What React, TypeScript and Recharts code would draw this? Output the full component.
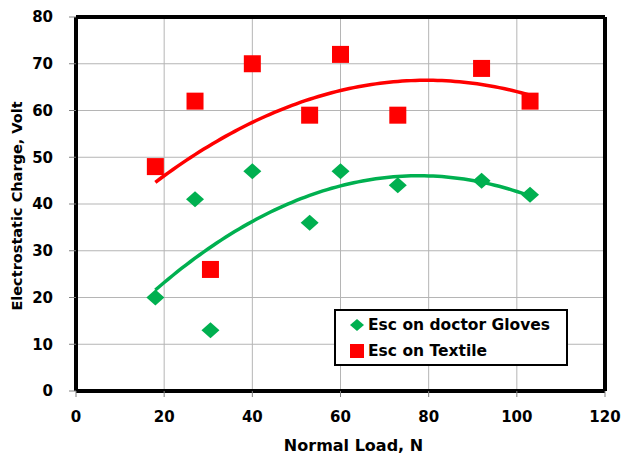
import React from "react";
import { ComposedChart, Scatter, XAxis, YAxis, CartesianGrid, Legend, ReferenceLine, Label } from "recharts";

const loads = [18, 27, 30.5, 40, 53, 60, 73, 92, 103];
const glovesCharge = [20, 41, 13, 47, 36, 47, 44, 45, 42];
const textileCharge = [48, 62, 26, 70, 59, 72, 59, 69, 62];
const xTicks = [0, 20, 40, 60, 80, 100, 120];
const yTicks = [0, 10, 20, 30, 40, 50, 60, 70, 80];

const GREEN = "#00B050";
const RED = "#FF0000";
const FONT = "'DejaVu Sans', sans-serif";

// 2nd order polynomial least squares fit, like Excel's trendline
function quadFit(xs: number[], ys: number[]) {
  const s = [0, 0, 0, 0, 0];
  const t = [0, 0, 0];
  xs.forEach((x, i) => {
    for (let k = 0; k < 5; k++) s[k] += Math.pow(x, k);
    for (let k = 0; k < 3; k++) t[k] += ys[i] * Math.pow(x, k);
  });
  const m = [
    [s[0], s[1], s[2], t[0]],
    [s[1], s[2], s[3], t[1]],
    [s[2], s[3], s[4], t[2]],
  ];
  for (let c = 0; c < 3; c++) {
    for (let r = c + 1; r < 3; r++) {
      const f = m[r][c] / m[c][c];
      for (let k = c; k < 4; k++) m[r][k] -= f * m[c][k];
    }
  }
  const coef = [0, 0, 0];
  for (let r = 2; r >= 0; r--) {
    let v = m[r][3];
    for (let k = r + 1; k < 3; k++) v -= m[r][k] * coef[k];
    coef[r] = v / m[r][r];
  }
  return coef;
}

function trend(xs: number[], ys: number[]) {
  const [c0, c1, c2] = quadFit(xs, ys);
  const lo = Math.min(...xs);
  const hi = Math.max(...xs);
  const pts = [];
  for (let x = lo; x <= hi; x += 1) pts.push({ x, y: c0 + c1 * x + c2 * x * x });
  pts.push({ x: hi, y: c0 + c1 * hi + c2 * hi * hi });
  return pts;
}

const glovesData = loads.map((x, i) => ({ x, y: glovesCharge[i] }));
const textileData = loads.map((x, i) => ({ x, y: textileCharge[i] }));
const glovesTrend = trend(loads, glovesCharge);
const textileTrend = trend(loads, textileCharge);

const Diamond = (props: any) => {
  const { cx, cy } = props;
  return <polygon points={`${cx},${cy - 8} ${cx + 9},${cy} ${cx},${cy + 8} ${cx - 9},${cy}`} fill={GREEN} />;
};

const Square = (props: any) => {
  const { cx, cy } = props;
  return <rect x={cx - 8.5} y={cy - 8.5} width={17} height={17} fill={RED} />;
};

const NoDot = () => <g />;

const renderLegend = () => (
  <div
    style={{
      border: "2px solid #000",
      background: "#fff",
      width: 230,
      height: 53,
      boxSizing: "content-box",
      fontFamily: FONT,
      fontWeight: 700,
      fontSize: 15.5,
      color: "#000",
    }}
  >
    <div style={{ display: "flex", alignItems: "center", height: 28, paddingLeft: 13 }}>
      <svg width={16} height={16} style={{ marginRight: 3 }}>
        <polygon points="8,2 15,8 8,14 1,8" fill={GREEN} />
      </svg>
      Esc on doctor Gloves
    </div>
    <div style={{ display: "flex", alignItems: "center", height: 24, paddingLeft: 13 }}>
      <svg width={16} height={16} style={{ marginRight: 3 }}>
        <rect x={1} y={1} width={14} height={14} fill={RED} />
      </svg>
      Esc on Textile
    </div>
  </div>
);

const tickStyle = { fontSize: 15, fontWeight: 700, fill: "#000", fontFamily: FONT };
const titleStyle = { fontSize: 16, fontWeight: 700, fill: "#000", fontFamily: FONT };

export default function App() {
  return (
    <div style={{ position: "absolute", left: 0, top: 0, width: 622, height: 455, background: "#fff" }}>
      <ComposedChart width={622} height={455} margin={{ top: 17, right: 17, bottom: 0, left: 0 }}>
        <CartesianGrid stroke="#b5b5b5" strokeWidth={1} />
        <XAxis
          type="number"
          dataKey="x"
          domain={[0, 120]}
          ticks={xTicks}
          interval={0}
          height={64}
          axisLine={{ stroke: "#000", strokeWidth: 4 }}
          tickLine={{ stroke: "#808080" }}
          tickSize={6}
          tickMargin={14}
          tick={tickStyle}
        >
          <Label value="Normal Load, N" position="center" dx={13} dy={22} style={titleStyle} />
        </XAxis>
        <YAxis
          type="number"
          dataKey="y"
          domain={[0, 80]}
          ticks={yTicks}
          interval={0}
          width={76}
          axisLine={{ stroke: "#000", strokeWidth: 4 }}
          tickLine={{ stroke: "#808080" }}
          tickSize={7}
          tickMargin={16}
          tick={tickStyle}
        >
          <Label value="Electrostatic Charge, Volt" position="center" angle={-90} dx={-21} dy={2} style={{ ...titleStyle, fontSize: 14.5 }} />
        </YAxis>
        <ReferenceLine y={80} stroke="#000" strokeWidth={4} />
        <ReferenceLine x={120} stroke="#000" strokeWidth={4} />
        <Scatter name="textile trend" data={textileTrend} line={{ stroke: RED, strokeWidth: 3.5 }} shape={NoDot} isAnimationActive={false} legendType="none" />
        <Scatter name="gloves trend" data={glovesTrend} line={{ stroke: GREEN, strokeWidth: 3.5 }} shape={NoDot} isAnimationActive={false} legendType="none" />
        <Scatter name="Esc on doctor Gloves" data={glovesData} shape={Diamond} isAnimationActive={false} />
        <Scatter name="Esc on Textile" data={textileData} shape={Square} isAnimationActive={false} />
        <Legend
          layout="horizontal"
          verticalAlign="middle"
          content={renderLegend}
          wrapperStyle={{ position: "absolute", left: 334, top: 309, width: 234, height: 57 }}
        />
      </ComposedChart>
    </div>
  );
}
